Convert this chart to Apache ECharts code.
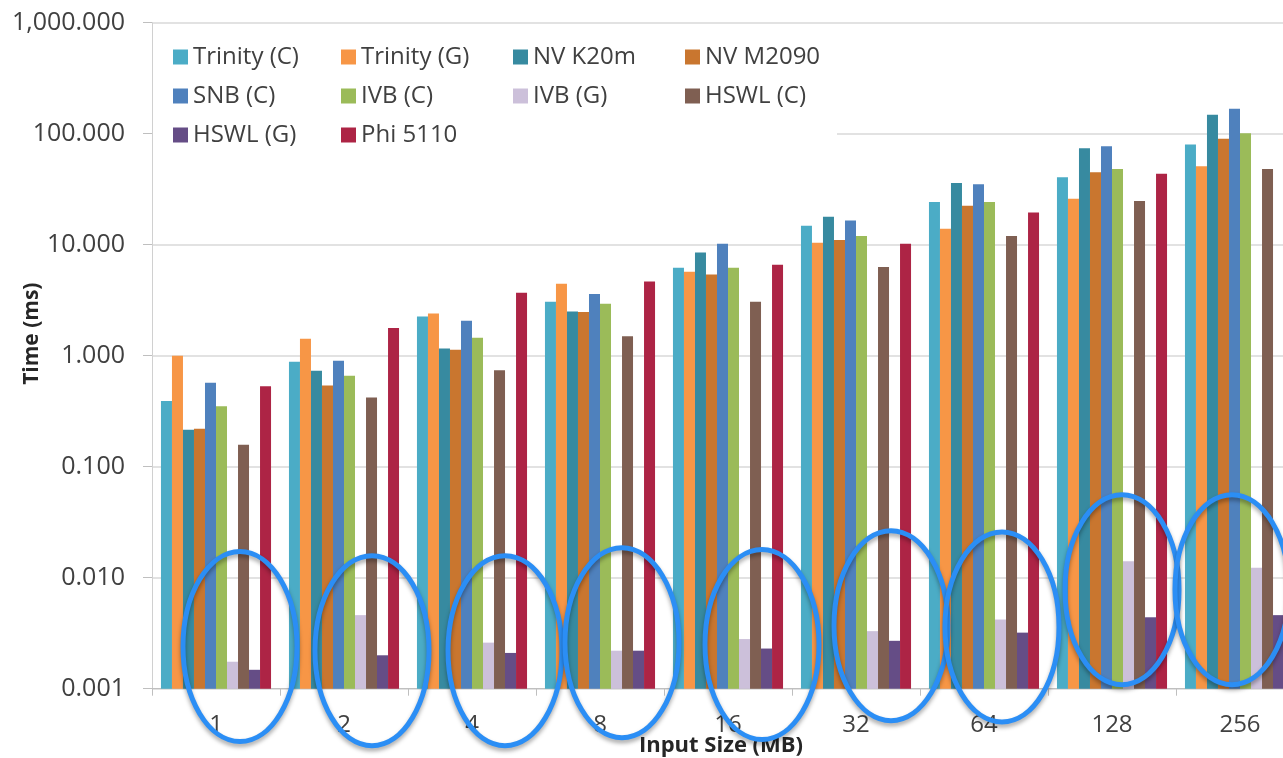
<!DOCTYPE html>
<html>
<head>
<meta charset="utf-8">
<title>Execution time by input size</title>
<script src="https://cdn.jsdelivr.net/npm/echarts@6/dist/echarts.min.js"></script>
<style>
  html, body { margin: 0; padding: 0; background: #ffffff; }
  #chart { width: 1283px; height: 758px; }
</style>
</head>
<body>
<div id="chart"></div>
<script>
// Input sizes (MB) on the category axis
const sizes = ['1', '2', '4', '8', '16', '32', '64', '128', '256'];

// Time (ms) per device / implementation
const trinityC = [0.39, 0.88, 2.25, 3.07, 6.2, 14.8, 24.3, 40.5, 80];
const trinityG = [1.0, 1.42, 2.4, 4.45, 5.7, 10.4, 13.9, 25.9, 51];
const nvK20m   = [0.215, 0.73, 1.16, 2.5, 8.5, 17.9, 36, 74, 148];
const nvM2090  = [0.22, 0.54, 1.13, 2.48, 5.4, 11.0, 22.4, 45, 90];
const snbC     = [0.57, 0.9, 2.07, 3.6, 10.2, 16.5, 35, 77, 168];
const ivbC     = [0.35, 0.66, 1.45, 2.94, 6.2, 12.0, 24.3, 48, 101];
const ivbG     = [0.00175, 0.0046, 0.0026, 0.0022, 0.0028, 0.0033, 0.0042, 0.0141, 0.0123];
const hswlC    = [0.158, 0.42, 0.74, 1.5, 3.07, 6.3, 12, 24.8, 48];
const hswlG    = [0.00148, 0.002, 0.0021, 0.0022, 0.0023, 0.0027, 0.0032, 0.0044, 0.0046];
const phi5110  = [0.53, 1.78, 3.7, 4.65, 6.6, 10.2, 19.5, 43.5, 94];

const seriesNames = ['Trinity (C)', 'Trinity (G)', 'NV K20m', 'NV M2090', 'SNB (C)',
                     'IVB (C)', 'IVB (G)', 'HSWL (C)', 'HSWL (G)', 'Phi 5110'];
const seriesValues = [trinityC, trinityG, nvK20m, nvM2090, snbC, ivbC, ivbG, hswlC, hswlG, phi5110];
const seriesColors = ['#4bacc6', '#f79646', '#378aa0', '#c9762f', '#4f81bd',
                      '#9bbb59', '#ccc0da', '#7f5f52', '#654d86', '#ad2445'];

// Legend columns (names listed top to bottom)
const legendColumns = [
  ['Trinity (C)', 'SNB (C)', 'HSWL (G)'],
  ['Trinity (G)', 'IVB (C)', 'Phi 5110'],
  ['NV K20m', 'IVB (G)'],
  ['NV M2090', 'HSWL (C)']
];
const legendLeft = [168, 336, 508, 680];

// Highlight rings around the low-latency (G) bars: [category index, time (ms), x shift px]
const rings = [
  [0, 0.0024, 24], [1, 0.0022, 28], [2, 0.0022, 33], [3, 0.0026, 22], [4, 0.0025, 34],
  [5, 0.0037, 35], [6, 0.0036, 18], [7, 0.0078, 10], [8, 0.0078, -8]
];

const FONT = '"Open Sans", "DejaVu Sans", sans-serif';
const AXIS_MIN = 0.001;

const chart = echarts.init(document.getElementById('chart'), null, { renderer: 'canvas' });

const fmt = (v) => Number(v).toLocaleString('en-US', { minimumFractionDigits: 3, maximumFractionDigits: 3 });

const option = {
  backgroundColor: '#ffffff',
  animation: false,
  textStyle: { fontFamily: FONT },
  grid: { left: 152, top: 22.7, width: 1152, height: 666, containLabel: false, outerBoundsMode: 'none' },
  legend: legendColumns.map((col, i) => ({
    orient: 'vertical',
    left: legendLeft[i],
    top: 39,
    itemWidth: 15,
    itemHeight: 15,
    itemGap: 13,
    icon: 'rect',
    selectedMode: false,
    data: col,
    textStyle: { fontFamily: FONT, fontSize: 24, color: '#404040', lineHeight: 26 }
  })),
  xAxis: {
    type: 'category',
    data: sizes,
    name: 'Input Size (MB)',
    nameLocation: 'middle',
    nameGap: 46,
    nameMoveOverlap: false,
    nameTextStyle: { fontFamily: FONT, fontSize: 22, fontWeight: 'bold', color: '#262626', padding: [0, 14, 0, 0] },
    axisLine: { lineStyle: { color: '#bfbfbf', width: 1 } },
    axisTick: { show: true, length: 7, lineStyle: { color: '#bfbfbf' } },
    axisLabel: { fontFamily: FONT, fontSize: 24, color: '#404040', margin: 24 },
    splitLine: { show: false }
  },
  yAxis: {
    type: 'log',
    logBase: 10,
    min: AXIS_MIN,
    max: 1000,
    startValue: AXIS_MIN,
    splitNumber: 6,
    name: 'Time (ms)',
    nameLocation: 'middle',
    nameRotate: 90,
    nameGap: 109,
    nameMoveOverlap: false,
    nameTextStyle: { fontFamily: FONT, fontSize: 21, fontWeight: 'bold', color: '#262626', padding: [0, 0, 0, 44] },
    axisLine: { show: true, lineStyle: { color: '#d0d0d0', width: 1 } },
    axisTick: { show: true, length: 9, lineStyle: { color: '#bfbfbf' } },
    axisLabel: { fontFamily: FONT, fontSize: 25, color: '#404040', margin: 27, formatter: fmt },
    splitLine: { show: true, lineStyle: { color: '#d9d9d9', width: 1.5 } },
    minorTick: { show: false },
    minorSplitLine: { show: false }
  },
  series: seriesNames.map((name, i) => ({
    name,
    type: 'bar',
    data: seriesValues[i],
    barGap: '0%',
    barCategoryGap: '14%',
    itemStyle: { color: seriesColors[i] },
    z: 2
  })),
  graphic: [{
    // white panel behind the legend
    type: 'rect',
    shape: { x: 153, y: 34, width: 684, height: 114 },
    style: { fill: '#ffffff' },
    z: 1,
    silent: true
  }]
};

chart.setOption(option);

// Place the highlight rings using the axis scales
const ringGraphics = rings.map(([ci, val, dx]) => {
  const p = chart.convertToPixel({ xAxisIndex: 0, yAxisIndex: 0 }, [ci, val]);
  return {
    type: 'ellipse',
    shape: { cx: p[0] + dx, cy: p[1], rx: 57, ry: 95 },
    style: {
      fill: 'none',
      stroke: '#2b8ef5',
      lineWidth: 5,
      shadowColor: 'rgba(0,0,0,0.35)',
      shadowBlur: 4,
      shadowOffsetY: 3
    },
    z: 20,
    silent: true
  };
});

chart.setOption({ graphic: option.graphic.concat(ringGraphics) });
</script>
</body>
</html>
